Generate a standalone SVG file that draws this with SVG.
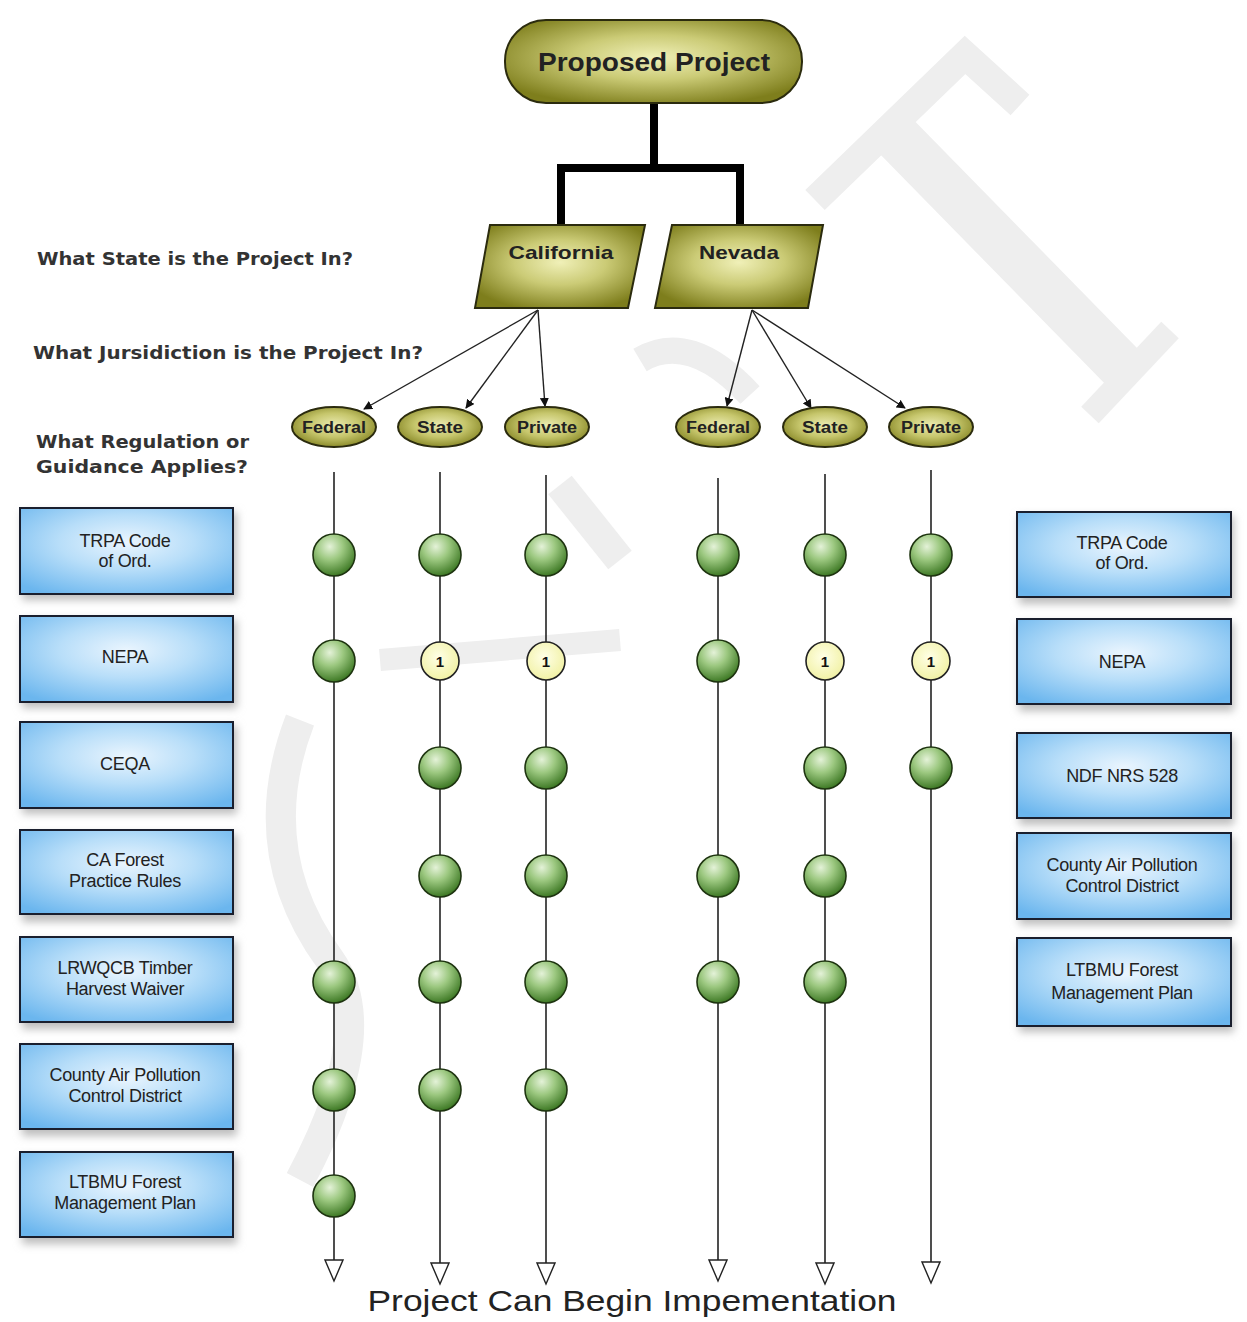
<svg xmlns="http://www.w3.org/2000/svg" width="1247" height="1322" viewBox="0 0 1247 1322">
<defs>
  <radialGradient id="olive" cx="50%" cy="45%" r="60%">
    <stop offset="0" stop-color="#f0f0b8"/>
    <stop offset="0.45" stop-color="#cbcb76"/>
    <stop offset="1" stop-color="#7e7e1c"/>
  </radialGradient>
  <radialGradient id="oliveE" cx="50%" cy="45%" r="60%">
    <stop offset="0" stop-color="#eaeab0"/>
    <stop offset="0.5" stop-color="#c6c66c"/>
    <stop offset="1" stop-color="#80801e"/>
  </radialGradient>
  <radialGradient id="blue" cx="50%" cy="40%" r="70%">
    <stop offset="0" stop-color="#eaf5fe"/>
    <stop offset="0.45" stop-color="#b8def9"/>
    <stop offset="1" stop-color="#6bb6ee"/>
  </radialGradient>
  <radialGradient id="green" cx="40%" cy="30%" r="70%">
    <stop offset="0" stop-color="#e4f2d8"/>
    <stop offset="0.45" stop-color="#9cc880"/>
    <stop offset="1" stop-color="#3f7a26"/>
  </radialGradient>
  <radialGradient id="yellow" cx="45%" cy="40%" r="65%">
    <stop offset="0" stop-color="#ffffe6"/>
    <stop offset="1" stop-color="#f0f0a0"/>
  </radialGradient>
  <filter id="shadow" x="-10%" y="-10%" width="120%" height="130%">
    <feGaussianBlur stdDeviation="4"/>
  </filter>
  <marker id="arr" viewBox="0 0 10 10" refX="9" refY="5" markerWidth="9" markerHeight="9" markerUnits="userSpaceOnUse" orient="auto">
    <path d="M0,0 L10,5 L0,10 z" fill="#111"/>
  </marker>
  <marker id="open" viewBox="0 0 24 20" refX="1" refY="10" markerWidth="24" markerHeight="20" markerUnits="userSpaceOnUse" orient="auto">
    <path d="M1,1 L1,19 L22,10 z" fill="#fff" stroke="#222" stroke-width="1.4"/>
  </marker>
  <g id="gdot"><circle r="21" fill="url(#green)" stroke="#1e3410" stroke-width="1.6"/></g>
  <g id="ydot"><circle r="19" fill="url(#yellow)" stroke="#222" stroke-width="1.6"/><text y="6" text-anchor="middle" class="one">1</text></g>
</defs>
<style>
  .q { font-family: "DejaVu Sans", "Liberation Sans", sans-serif; font-weight: bold; font-size: 18px; fill: #333; }
  .box { fill: url(#blue); stroke: #1a1f2e; stroke-width: 2; }
  .shd { fill: #bdbdbd; filter: url(#shadow); }
  .bt { font-family: "Liberation Sans", Arial, sans-serif; font-size: 18px; fill: #222; text-anchor: middle; letter-spacing: -0.3px; }
  .olv { stroke: #2b2b0e; stroke-width: 2; }
  .ot { font-family: "Liberation Sans", Arial, sans-serif; font-weight: bold; fill: #222; text-anchor: middle; }
  .one { font-family: "Liberation Sans", Arial, sans-serif; font-weight: bold; font-size: 15px; fill: #111; }
  .vline { stroke: #222; stroke-width: 1.6; fill: none; marker-end: url(#open); }
  .thin { stroke: #222; stroke-width: 1.4; fill: none; marker-end: url(#arr); }
  .wm { fill: none; stroke: #eeeeee; stroke-linecap: butt; }
</style>
<rect width="1247" height="1322" fill="#ffffff"/>

<g id="watermark">
  <path class="wm" d="M815,200 L965,55 L1020,105" stroke-width="28"/>
  <path class="wm" d="M885,125 L1125,370" stroke-width="48"/>
  <path class="wm" d="M1090,415 L1170,330" stroke-width="24"/>
  <path class="wm" d="M640,360 Q690,330 750,395" stroke-width="26"/>
  <path class="wm" d="M560,485 L620,560" stroke-width="30"/>
  <path class="wm" d="M300,720 Q250,850 330,960 Q380,1030 300,1180" stroke-width="30"/>
  <path class="wm" d="M380,660 L620,640" stroke-width="22"/>
</g>

<g id="labels">
  <text class="q" x="37" y="265" textLength="316" lengthAdjust="spacingAndGlyphs">What State is the Project In?</text>
  <text class="q" x="33" y="359" textLength="390" lengthAdjust="spacingAndGlyphs">What Jursidiction is the Project In?</text>
  <text class="q" x="36" y="448" textLength="213" lengthAdjust="spacingAndGlyphs">What Regulation or</text>
  <text class="q" x="36" y="473" textLength="212" lengthAdjust="spacingAndGlyphs">Guidance Applies?</text>
</g>

<g id="connectors">
  <path d="M654,101 V168 M561,228 V168 H740 V228" fill="none" stroke="#000" stroke-width="8" stroke-linejoin="miter"/>
  <line class="thin" x1="538" y1="310" x2="364" y2="409"/>
  <line class="thin" x1="538" y1="310" x2="466" y2="408"/>
  <line class="thin" x1="538" y1="310" x2="545" y2="406"/>
  <line class="thin" x1="752" y1="310" x2="727" y2="406"/>
  <line class="thin" x1="752" y1="310" x2="811" y2="408"/>
  <line class="thin" x1="752" y1="310" x2="905" y2="408"/>
  <line class="vline" x1="334" y1="472" x2="334" y2="1260"/>
  <line class="vline" x1="440" y1="472" x2="440" y2="1263"/>
  <line class="vline" x1="546" y1="475" x2="546" y2="1263"/>
  <line class="vline" x1="718" y1="478" x2="718" y2="1260"/>
  <line class="vline" x1="825" y1="474" x2="825" y2="1263"/>
  <line class="vline" x1="931" y1="470" x2="931" y2="1262"/>
</g>

<g id="proposed-project">
  <rect x="505" y="20" width="297" height="83" rx="41" fill="url(#olive)" class="olv"/>
  <text class="ot" x="654" y="71" font-size="26" textLength="232" lengthAdjust="spacingAndGlyphs">Proposed Project</text>
</g>
<g id="california">
  <polygon points="490,225 645,225 628,308 475,308" fill="url(#olive)" class="olv"/>
  <text class="ot" x="561" y="259" font-size="19" textLength="105" lengthAdjust="spacingAndGlyphs">California</text>
</g>
<g id="nevada">
  <polygon points="672,225 823,225 808,308 655,308" fill="url(#olive)" class="olv"/>
  <text class="ot" x="739" y="259" font-size="19" textLength="80" lengthAdjust="spacingAndGlyphs">Nevada</text>
</g>

<g id="ca-federal"><ellipse cx="334" cy="427" rx="42" ry="20" fill="url(#oliveE)" class="olv"/><text class="ot" x="334" y="433" font-size="16" textLength="64" lengthAdjust="spacingAndGlyphs">Federal</text></g>
<g id="ca-state"><ellipse cx="440" cy="427" rx="42" ry="20" fill="url(#oliveE)" class="olv"/><text class="ot" x="440" y="433" font-size="16" textLength="46" lengthAdjust="spacingAndGlyphs">State</text></g>
<g id="ca-private"><ellipse cx="547" cy="427" rx="42" ry="20" fill="url(#oliveE)" class="olv"/><text class="ot" x="547" y="433" font-size="16" textLength="60" lengthAdjust="spacingAndGlyphs">Private</text></g>
<g id="nv-federal"><ellipse cx="718" cy="427" rx="42" ry="20" fill="url(#oliveE)" class="olv"/><text class="ot" x="718" y="433" font-size="16" textLength="64" lengthAdjust="spacingAndGlyphs">Federal</text></g>
<g id="nv-state"><ellipse cx="825" cy="427" rx="42" ry="20" fill="url(#oliveE)" class="olv"/><text class="ot" x="825" y="433" font-size="16" textLength="46" lengthAdjust="spacingAndGlyphs">State</text></g>
<g id="nv-private"><ellipse cx="931" cy="427" rx="42" ry="20" fill="url(#oliveE)" class="olv"/><text class="ot" x="931" y="433" font-size="16" textLength="60" lengthAdjust="spacingAndGlyphs">Private</text></g>

<g id="left-boxes">
  <g id="l-trpa"><rect class="shd" x="22" y="512" width="215" height="88"/><rect class="box" x="20" y="508" width="213" height="86"/><text class="bt" x="125" y="547">TRPA Code</text><text class="bt" x="125" y="567">of Ord.</text></g>
  <g id="l-nepa"><rect class="shd" x="22" y="620" width="215" height="88"/><rect class="box" x="20" y="616" width="213" height="86"/><text class="bt" x="125" y="663">NEPA</text></g>
  <g id="l-ceqa"><rect class="shd" x="22" y="726" width="215" height="88"/><rect class="box" x="20" y="722" width="213" height="86"/><text class="bt" x="125" y="770">CEQA</text></g>
  <g id="l-caforest"><rect class="shd" x="22" y="834" width="215" height="88"/><rect class="box" x="20" y="830" width="213" height="84"/><text class="bt" x="125" y="866">CA Forest</text><text class="bt" x="125" y="887">Practice Rules</text></g>
  <g id="l-lrwqcb"><rect class="shd" x="22" y="941" width="215" height="88"/><rect class="box" x="20" y="937" width="213" height="85"/><text class="bt" x="125" y="974">LRWQCB Timber</text><text class="bt" x="125" y="995">Harvest Waiver</text></g>
  <g id="l-county"><rect class="shd" x="22" y="1048" width="215" height="88"/><rect class="box" x="20" y="1044" width="213" height="85"/><text class="bt" x="125" y="1081">County Air Pollution</text><text class="bt" x="125" y="1102">Control District</text></g>
  <g id="l-ltbmu"><rect class="shd" x="22" y="1156" width="215" height="88"/><rect class="box" x="20" y="1152" width="213" height="85"/><text class="bt" x="125" y="1188">LTBMU Forest</text><text class="bt" x="125" y="1209">Management Plan</text></g>
</g>

<g id="right-boxes">
  <g id="r-trpa"><rect class="shd" x="1019" y="516" width="215" height="88"/><rect class="box" x="1017" y="512" width="214" height="85"/><text class="bt" x="1122" y="549">TRPA Code</text><text class="bt" x="1122" y="569">of Ord.</text></g>
  <g id="r-nepa"><rect class="shd" x="1019" y="623" width="215" height="88"/><rect class="box" x="1017" y="619" width="214" height="85"/><text class="bt" x="1122" y="668">NEPA</text></g>
  <g id="r-ndf"><rect class="shd" x="1019" y="737" width="215" height="88"/><rect class="box" x="1017" y="733" width="214" height="85"/><text class="bt" x="1122" y="782">NDF NRS 528</text></g>
  <g id="r-county"><rect class="shd" x="1019" y="837" width="215" height="88"/><rect class="box" x="1017" y="833" width="214" height="86"/><text class="bt" x="1122" y="871">County Air Pollution</text><text class="bt" x="1122" y="892">Control District</text></g>
  <g id="r-ltbmu"><rect class="shd" x="1019" y="942" width="215" height="90"/><rect class="box" x="1017" y="938" width="214" height="88"/><text class="bt" x="1122" y="976">LTBMU Forest</text><text class="bt" x="1122" y="999">Management Plan</text></g>
</g>

<g id="dots">
  <use href="#gdot" x="334" y="555"/><use href="#gdot" x="334" y="661"/><use href="#gdot" x="334" y="982"/><use href="#gdot" x="334" y="1090"/><use href="#gdot" x="334" y="1196"/>
  <use href="#gdot" x="440" y="555"/><use href="#ydot" x="440" y="661"/><use href="#gdot" x="440" y="768"/><use href="#gdot" x="440" y="876"/><use href="#gdot" x="440" y="982"/><use href="#gdot" x="440" y="1090"/>
  <use href="#gdot" x="546" y="555"/><use href="#ydot" x="546" y="661"/><use href="#gdot" x="546" y="768"/><use href="#gdot" x="546" y="876"/><use href="#gdot" x="546" y="982"/><use href="#gdot" x="546" y="1090"/>
  <use href="#gdot" x="718" y="555"/><use href="#gdot" x="718" y="661"/><use href="#gdot" x="718" y="876"/><use href="#gdot" x="718" y="982"/>
  <use href="#gdot" x="825" y="555"/><use href="#ydot" x="825" y="661"/><use href="#gdot" x="825" y="768"/><use href="#gdot" x="825" y="876"/><use href="#gdot" x="825" y="982"/>
  <use href="#gdot" x="931" y="555"/><use href="#ydot" x="931" y="661"/><use href="#gdot" x="931" y="768"/>
</g>

<g id="end-label">
  <text x="632" y="1311" text-anchor="middle" font-family="Liberation Sans, Arial, sans-serif" font-size="30" fill="#222" textLength="529" lengthAdjust="spacingAndGlyphs">Project Can Begin Impementation</text>
</g>
</svg>
